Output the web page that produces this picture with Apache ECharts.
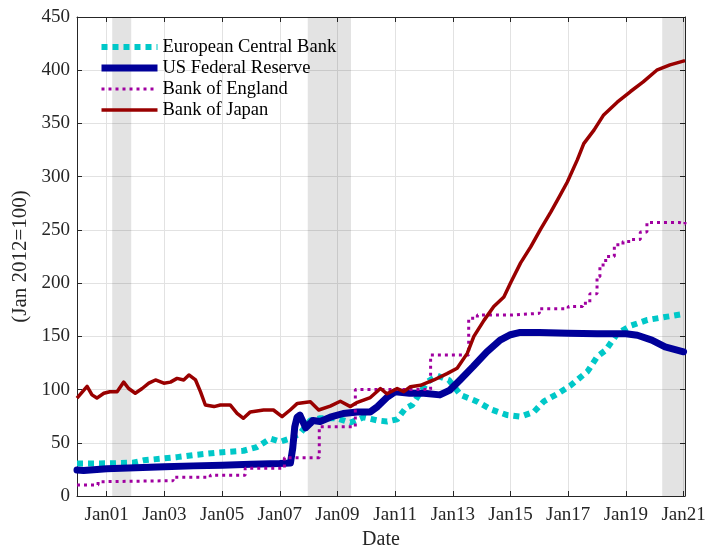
<!DOCTYPE html>
<html><head><meta charset="utf-8">
<script src="https://cdn.jsdelivr.net/npm/echarts@6/dist/echarts.min.js"></script>
<style>html,body{margin:0;padding:0;background:#fff}#c{width:707px;height:548px}</style>
</head><body><div id="c"></div>
<script>
// ---- data (decimal years) ----
const xTickYears = [2001, 2003, 2005, 2007, 2009, 2011, 2013, 2015, 2017, 2019, 2021];
const yTickValues = [0, 50, 100, 150, 200, 250, 300, 350, 400, 450];
const seriesNames = ['European Central Bank', 'US Federal Reserve', 'Bank of England', 'Bank of Japan'];

const recessionStarts = [2001.19, 2007.97, 2020.26];
const recessionEnds = [2001.85, 2009.47, 2021.05];

const ecbYears = [1999.97, 2001.11, 2001.91, 2002.28, 2003.44, 2004.02, 2004.83, 2005.28, 2005.74, 2006.21, 2006.67, 2007.02, 2007.36, 2007.71, 2008.06, 2008.4, 2008.99, 2009.45, 2009.91, 2010.38, 2010.72, 2011.07, 2011.36, 2011.59, 2012.11, 2012.46, 2012.86, 2013.27, 2013.85, 2014.31, 2014.89, 2015.35, 2015.81, 2016.16, 2016.63, 2017.09, 2017.67, 2018.01, 2018.3, 2018.71, 2019.17, 2019.75, 2020.44, 2021.0];
const ecbValues = [30.5, 30.7, 31.3, 33.5, 36.5, 38.5, 40.7, 41.6, 42.5, 46, 54, 51, 54, 59, 71, 73, 73, 69, 74, 71, 70, 72, 82.4, 85.5, 107, 113, 109, 95, 88.6, 81.5, 76, 74.5, 79, 89, 96, 104, 117, 131, 137, 152.8, 160, 165.4, 168.5, 171];

const fedYears = [1999.97, 2000.2, 2001.0, 2002.0, 2003.0, 2004.0, 2005.0, 2006.0, 2007.0, 2007.37, 2007.45, 2007.52, 2007.6, 2007.7, 2007.8, 2007.9, 2008.05, 2008.15, 2008.4, 2008.75, 2009.2, 2009.69, 2010.14, 2010.39, 2010.73, 2011.01, 2011.5, 2012.0, 2012.55, 2012.9, 2013.25, 2013.7, 2014.18, 2014.64, 2015.0, 2015.3, 2016.0, 2017.0, 2018.0, 2019.0, 2019.4, 2019.9, 2020.36, 2021.0];
const fedValues = [24.5, 24, 25.5, 26.5, 27.5, 28.3, 29, 29.8, 30.5, 31, 45, 65, 74, 76, 70, 64, 68, 71, 70, 74, 77.5, 79, 79, 84, 93, 98, 96.5, 96.5, 95, 99.5, 109, 121.5, 135.5, 146.5, 151.5, 153.5, 153.5, 153, 152.5, 152.5, 151, 146.5, 140, 135.5];

const boeYears = [1999.97, 2000.7, 2000.95, 2003.3, 2004.59, 2005.8, 2007.16, 2008.37, 2009.62, 2012.23, 2013.55, 2013.85, 2015.0, 2016.0, 2017.0, 2017.5, 2017.75, 2018.0, 2018.1, 2018.3, 2018.6, 2018.9, 2019.2, 2019.5, 2019.73, 2020.6, 2020.85, 2021.05];
const boeValues = [10.3, 13.5, 14.4, 17.5, 19.5, 26, 36, 65, 100, 132.5, 167, 170, 171.6, 176, 178, 181, 190, 206, 217, 225, 236, 239, 241, 248, 257, 257, 255.5, 257.5];

const bojYears = [1999.97, 2000.32, 2000.49, 2000.66, 2000.9, 2001.11, 2001.36, 2001.59, 2001.76, 2001.99, 2002.23, 2002.46, 2002.69, 2002.98, 2003.21, 2003.44, 2003.67, 2003.85, 2004.08, 2004.25, 2004.42, 2004.72, 2004.94, 2005.28, 2005.52, 2005.74, 2005.98, 2006.44, 2006.78, 2007.08, 2007.36, 2007.61, 2008.06, 2008.35, 2008.75, 2009.1, 2009.45, 2009.69, 2010.14, 2010.49, 2010.72, 2011.07, 2011.3, 2011.53, 2011.88, 2012.34, 2012.8, 2013.15, 2013.5, 2013.73, 2014.08, 2014.42, 2014.77, 2015.0, 2015.35, 2015.7, 2016.05, 2016.4, 2016.67, 2016.97, 2017.32, 2017.54, 2017.9, 2018.23, 2018.7, 2019.16, 2019.6, 2020.07, 2020.53, 2021.05];
const bojValues = [92, 103, 95, 92, 96.5, 98, 98, 107, 101, 96.5, 101, 106, 109, 106, 107, 110.5, 109, 113.7, 109, 98, 85.5, 84, 85.5, 85.5, 77.7, 73, 79, 80.8, 80.8, 74.5, 80.8, 87, 88.6, 80.8, 84.5, 89, 84, 88, 92.5, 101, 96, 101, 98, 102.7, 104, 109, 115, 120, 134, 150, 165, 178, 187, 200, 219, 234, 251, 267, 280, 295, 316, 331, 344, 358, 370, 380, 389, 400, 405, 409];

// ---- build ----
const xMin = 1999.97, xMax = 2021.05;
const zip = (a, b) => a.map((v, i) => [v, b[i]]);
const FONT = "'Liberation Serif', 'DejaVu Serif', serif";
const AX = '#262626';
const COLORS = ['#00C8C8', '#000099', '#A000A0', '#990000'];
const STYLES = [
  {color: COLORS[0], width: 6, type: [6, 5], cap: 'butt'},
  {color: COLORS[1], width: 7, type: 'solid', cap: 'butt', join: 'round'},
  {color: COLORS[2], width: 3, type: [3, 4], cap: 'butt'},
  {color: COLORS[3], width: 3.5, type: 'solid', join: 'round'}
];

const chart = echarts.init(document.getElementById('c'), null, {renderer: 'canvas'});
const xLabel = v => 'Jan' + String(Math.round(v) % 100).padStart(2, '0');

const baseX = {
  type: 'value', min: xMin, max: xMax,
  axisLine: {show: true, onZero: false, lineStyle: {color: AX, width: 1}},
  axisTick: {show: true, inside: true, length: 5, lineStyle: {color: AX}, customValues: xTickYears},
  axisLabel: {customValues: xTickYears, formatter: xLabel, color: AX, fontFamily: FONT, fontSize: 19, margin: 10},
  splitLine: {show: true, lineStyle: {color: '#e2e2e2', width: 1}},
};
const baseY = {
  type: 'value', min: 0, max: 450, interval: 50,
  axisLine: {show: true, onZero: false, lineStyle: {color: AX, width: 1}},
  axisTick: {show: true, inside: true, length: 5, lineStyle: {color: AX}},
  axisLabel: {color: AX, fontFamily: FONT, fontSize: 19, margin: 7},
  splitLine: {show: true, lineStyle: {color: '#e2e2e2', width: 1}},
};

const option = {
  animation: false,
  backgroundColor: '#fff',
  grid: {left: 77, right: 22, top: 17, bottom: 52, containLabel: false, outerBoundsMode: 'none'},
  legend: {
    data: seriesNames.map((n, i) => ({name: n, lineStyle: STYLES[i]})),
    orient: 'vertical', left: 98, top: 37, padding: 0,
    itemWidth: 56, itemHeight: 14, itemGap: 1, itemStyle: {opacity: 0},
    textStyle: {fontFamily: FONT, fontSize: 18.5, color: '#000', lineHeight: 20},
    selectedMode: false
  },
  xAxis: [
    Object.assign({}, baseX, {position: 'bottom', name: 'Date', nameLocation: 'middle', nameGap: 34,
      nameTextStyle: {fontFamily: FONT, fontSize: 20, color: AX}}),
    Object.assign({}, baseX, {position: 'top', axisLabel: {show: false}, splitLine: {show: false}})
  ],
  yAxis: [
    Object.assign({}, baseY, {position: 'left', name: '(Jan 2012=100)', nameLocation: 'middle', nameGap: 43,
      nameTextStyle: {fontFamily: FONT, fontSize: 21, color: AX}}),
    Object.assign({}, baseY, {position: 'right', axisLabel: {show: false}, splitLine: {show: false}})
  ],
  series: [
    {
      name: 'recessions', type: 'line', data: [], z: 1, silent: true,
      markArea: {silent: true, itemStyle: {color: 'rgba(0,0,0,0.11)'},
        data: recessionStarts.map((s, i) => [{xAxis: s}, {xAxis: recessionEnds[i]}])}
    },
    {name: seriesNames[0], type: 'line', symbol: 'none', data: zip(ecbYears, ecbValues),
      lineStyle: STYLES[0], itemStyle: {color: COLORS[0]}},
    {name: seriesNames[1], type: 'line', symbol: 'none', data: zip(fedYears, fedValues),
      lineStyle: Object.assign({}, STYLES[1], {cap: 'round'}), itemStyle: {color: COLORS[1]}},
    {name: seriesNames[2], type: 'line', symbol: 'none', step: 'end', data: zip(boeYears, boeValues),
      lineStyle: STYLES[2], itemStyle: {color: COLORS[2]}},
    {name: seriesNames[3], type: 'line', symbol: 'none', data: zip(bojYears, bojValues),
      lineStyle: STYLES[3], itemStyle: {color: COLORS[3]}}
  ]
};
chart.setOption(option);
</script></body></html>
